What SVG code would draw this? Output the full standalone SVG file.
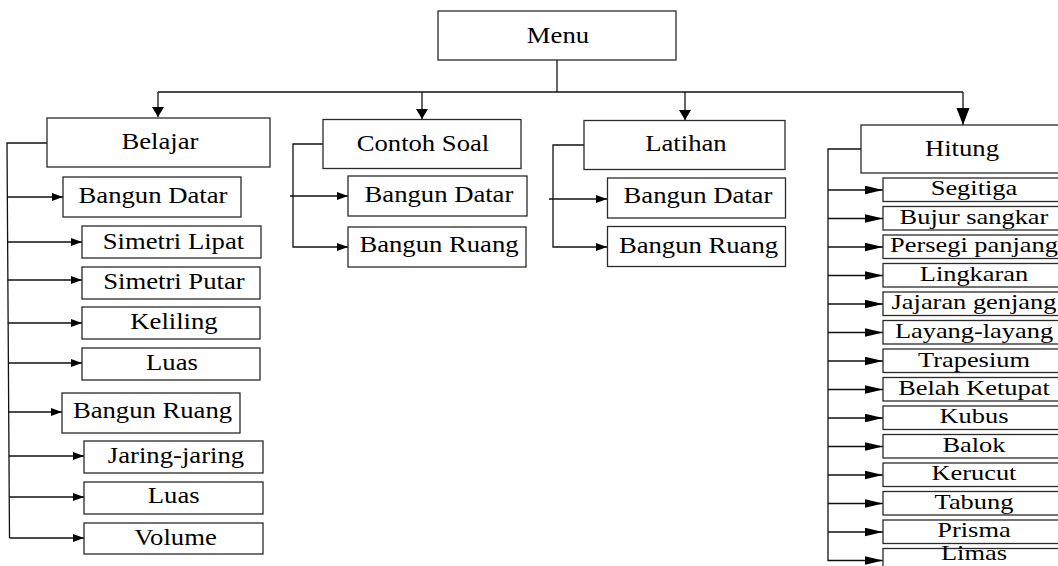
<svg xmlns="http://www.w3.org/2000/svg" width="1058" height="566" viewBox="0 0 1058 566" font-family="'Liberation Serif', 'Times New Roman', serif">
<style>
.box{fill:#fff;stroke:#2a2a2a;stroke-width:1.3}
.ln{fill:none;stroke:#111;stroke-width:1.3}
text{font-family:"Liberation Serif","Times New Roman",serif;fill:#000;text-anchor:middle;transform-box:fill-box;transform-origin:center}
.t{font-size:23px;transform:scaleX(1.16)}
.s{font-size:22px;transform:scaleX(1.2)}
</style>
<defs>
<marker id="ah" markerUnits="userSpaceOnUse" markerWidth="12" markerHeight="9" refX="11" refY="4" orient="auto"><path d="M0,0 L11,4 L0,8 z" fill="#000"/></marker>
<marker id="ahw" markerUnits="userSpaceOnUse" markerWidth="19" markerHeight="9" refX="18" refY="4.25" orient="auto"><path d="M0,0 L18,4.25 L0,8.5 z" fill="#000"/></marker>
<marker id="ad" markerUnits="userSpaceOnUse" markerWidth="11" markerHeight="13" refX="10" refY="6" orient="auto"><path d="M0,0 L10,6 L0,12 z" fill="#000"/></marker>
<marker id="adb" markerUnits="userSpaceOnUse" markerWidth="18" markerHeight="14" refX="17" refY="6.5" orient="auto"><path d="M0,0 L17,6.5 L0,13 z" fill="#000"/></marker>
</defs>
<rect width="1058" height="566" fill="#fff"/>
<g id="connectors">
<path class="ln" d="M557,60 V92"/>
<path class="ln" d="M158,92 H963"/>
<path class="ln" d="M158,92 V117" marker-end="url(#ad)"/>
<path class="ln" d="M422,92 V119" marker-end="url(#ad)"/>
<path class="ln" d="M685,92 V120" marker-end="url(#ad)"/>
<path class="ln" d="M963,92 V125" marker-end="url(#adb)"/>
<path class="ln" d="M47,143 H7 L9.5,538"/>
<path class="ln" d="M7,197 H63" marker-end="url(#ah)"/>
<path class="ln" d="M7.3,242 H82" marker-end="url(#ah)"/>
<path class="ln" d="M7.5,280 H82" marker-end="url(#ah)"/>
<path class="ln" d="M7.8,323 H82" marker-end="url(#ah)"/>
<path class="ln" d="M8,363 H82" marker-end="url(#ah)"/>
<path class="ln" d="M8.4,412 H62" marker-end="url(#ah)"/>
<path class="ln" d="M8.8,456 H84" marker-end="url(#ah)"/>
<path class="ln" d="M9.2,497 H84" marker-end="url(#ah)"/>
<path class="ln" d="M9.5,538 H84" marker-end="url(#ah)"/>
<path class="ln" d="M323,144 H293 V247 H348" marker-end="url(#ah)"/>
<path class="ln" d="M290,196 H348" marker-end="url(#ah)"/>
<path class="ln" d="M584,145 H553 V247 H607" marker-end="url(#ah)"/>
<path class="ln" d="M549,199 H607" marker-end="url(#ah)"/>
<path class="ln" d="M861,149 H828 V560.5 H883" marker-end="url(#ahw)"/>
<path class="ln" d="M828,190 H883" marker-end="url(#ahw)"/>
<path class="ln" d="M828,218.5 H883" marker-end="url(#ahw)"/>
<path class="ln" d="M828,247 H883" marker-end="url(#ahw)"/>
<path class="ln" d="M828,275.5 H883" marker-end="url(#ahw)"/>
<path class="ln" d="M828,304 H883" marker-end="url(#ahw)"/>
<path class="ln" d="M828,332.5 H883" marker-end="url(#ahw)"/>
<path class="ln" d="M828,361 H883" marker-end="url(#ahw)"/>
<path class="ln" d="M828,389.5 H883" marker-end="url(#ahw)"/>
<path class="ln" d="M828,418 H883" marker-end="url(#ahw)"/>
<path class="ln" d="M828,446.5 H883" marker-end="url(#ahw)"/>
<path class="ln" d="M828,475 H883" marker-end="url(#ahw)"/>
<path class="ln" d="M828,503.5 H883" marker-end="url(#ahw)"/>
<path class="ln" d="M828,532 H883" marker-end="url(#ahw)"/>
</g>
<g id="menu"><rect class="box" x="438" y="11" width="238" height="49"/><text class="t" x="558" y="42.7">Menu</text></g>
<g id="belajar"><rect class="box" x="47" y="118" width="223" height="49"/><text class="t" x="160" y="149">Belajar</text></g>
<g id="contoh-soal"><rect class="box" x="323" y="119.5" width="198" height="49"/><text class="t" x="423" y="150.7">Contoh Soal</text></g>
<g id="latihan"><rect class="box" x="584" y="120.5" width="201" height="49"/><text class="t" x="686" y="150.7">Latihan</text></g>
<g id="hitung"><rect class="box" x="861" y="125" width="210" height="48"/><text class="t" x="962" y="156">Hitung</text></g>

<g id="b-bangun-datar"><rect class="box" x="63" y="177" width="178" height="40"/><text class="t" x="153" y="203">Bangun Datar</text></g>
<g id="b-simetri-lipat"><rect class="box" x="82" y="226" width="179" height="32"/><text class="t" x="173.5" y="249.3">Simetri Lipat</text></g>
<g id="b-simetri-putar"><rect class="box" x="82" y="267" width="178" height="32"/><text class="t" x="174" y="289.3">Simetri Putar</text></g>
<g id="b-keliling"><rect class="box" x="82" y="307" width="178" height="32"/><text class="t" x="174" y="329.3">Keliling</text></g>
<g id="b-luas"><rect class="box" x="82" y="348" width="178" height="32"/><text class="t" x="172" y="370">Luas</text></g>
<g id="b-bangun-ruang"><rect class="box" x="62" y="393" width="178" height="40"/><text class="t" x="152.5" y="418.3">Bangun Ruang</text></g>
<g id="b-jaring"><rect class="box" x="84" y="441" width="179" height="32"/><text class="t" x="176" y="462.7">Jaring-jaring</text></g>
<g id="b-luas2"><rect class="box" x="84" y="482" width="179" height="32"/><text class="t" x="173.7" y="503.3">Luas</text></g>
<g id="b-volume"><rect class="box" x="84" y="523" width="179" height="31"/><text class="t" x="175.5" y="545">Volume</text></g>

<g id="c-bangun-datar"><rect class="box" x="348" y="176" width="179" height="40"/><text class="t" x="439" y="201.7">Bangun Datar</text></g>
<g id="c-bangun-ruang"><rect class="box" x="348" y="227" width="178" height="40"/><text class="t" x="439" y="252.3">Bangun Ruang</text></g>

<g id="l-bangun-datar"><rect class="box" x="607.5" y="178" width="178" height="40"/><text class="t" x="698" y="203.3">Bangun Datar</text></g>
<g id="l-bangun-ruang"><rect class="box" x="607.5" y="226.5" width="178" height="40"/><text class="t" x="698.5" y="252.7">Bangun Ruang</text></g>

<g id="h-segitiga"><rect class="box" x="883" y="178" width="190" height="23.5"/><text class="s" x="974" y="195.5">Segitiga</text></g>
<g id="h-bujur"><rect class="box" x="883" y="206.5" width="190" height="23.5"/><text class="s" x="974" y="224">Bujur sangkar</text></g>
<g id="h-persegi"><rect class="box" x="883" y="235" width="190" height="23.5"/><text class="s" x="974" y="252.5">Persegi panjang</text></g>
<g id="h-lingkaran"><rect class="box" x="883" y="263.5" width="190" height="23.5"/><text class="s" x="974" y="281">Lingkaran</text></g>
<g id="h-jajaran"><rect class="box" x="883" y="292" width="190" height="23.5"/><text class="s" x="974" y="309.5">Jajaran genjang</text></g>
<g id="h-layang"><rect class="box" x="883" y="320.5" width="190" height="23.5"/><text class="s" x="974" y="338">Layang-layang</text></g>
<g id="h-trapesium"><rect class="box" x="883" y="349" width="190" height="23.5"/><text class="s" x="974" y="366.5">Trapesium</text></g>
<g id="h-belah"><rect class="box" x="883" y="377.5" width="190" height="23.5"/><text class="s" x="974" y="395">Belah Ketupat</text></g>
<g id="h-kubus"><rect class="box" x="883" y="406" width="190" height="23.5"/><text class="s" x="974" y="423.5">Kubus</text></g>
<g id="h-balok"><rect class="box" x="883" y="434.5" width="190" height="23.5"/><text class="s" x="974" y="452">Balok</text></g>
<g id="h-kerucut"><rect class="box" x="883" y="463" width="190" height="23.5"/><text class="s" x="974" y="480.5">Kerucut</text></g>
<g id="h-tabung"><rect class="box" x="883" y="491.5" width="190" height="23.5"/><text class="s" x="974" y="509">Tabung</text></g>
<g id="h-prisma"><rect class="box" x="883" y="520" width="190" height="23.5"/><text class="s" x="974" y="537.5">Prisma</text></g>
<g id="h-limas"><rect class="box" x="883" y="548.5" width="190" height="23.5"/><text class="s" x="974" y="560.5">Limas</text></g>
</svg>
